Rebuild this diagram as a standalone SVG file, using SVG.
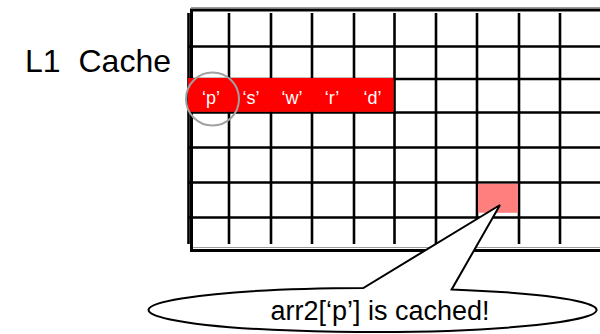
<svg xmlns="http://www.w3.org/2000/svg" width="600" height="334" viewBox="0 0 600 334">
  <style>
    .grid line { stroke: #000; stroke-width: 2.6; }
    .frame { stroke: #000; stroke-width: 3; fill: none; }
    .shade { stroke: #9a9a9a; stroke-width: 1; fill: none; }
    .label { font-family: "Liberation Sans", Arial, sans-serif; fill: #000; }
    .cell-text { font-family: "Liberation Sans", Arial, sans-serif; font-size: 18px; fill: #fff; text-anchor: middle; }
  </style>
  <rect width="600" height="334" fill="#fff"/>

  <!-- caption -->
  <g id="caption">
    <text class="label" x="25" y="72" font-size="32" word-spacing="9">L1 Cache</text>
  </g>

  <!-- cache grid: 7 rows of cache lines -->
  <g id="cache">
    <g class="grid">
      <line x1="188.5" y1="13" x2="188.5" y2="244"/>
      <line x1="229" y1="13" x2="229" y2="244"/>
      <line x1="271" y1="13" x2="271" y2="244"/>
      <line x1="312" y1="13" x2="312" y2="244"/>
      <line x1="354" y1="13" x2="354" y2="244"/>
      <line x1="394.5" y1="13" x2="394.5" y2="244"/>
      <line x1="436" y1="13" x2="436" y2="244"/>
      <line x1="477" y1="13" x2="477" y2="244"/>
      <line x1="519" y1="13" x2="519" y2="244"/>
      <line x1="560" y1="13" x2="560" y2="244"/>
      <line x1="188" y1="46.5" x2="600" y2="46.5"/>
      <line x1="188" y1="79" x2="600" y2="79"/>
      <line x1="188" y1="112.5" x2="600" y2="112.5"/>
      <line x1="188" y1="147.5" x2="600" y2="147.5"/>
      <line x1="188" y1="182.5" x2="600" y2="182.5"/>
      <line x1="188" y1="217.5" x2="600" y2="217.5"/>
    </g>
    <!-- outer frame -->
    <path class="shade" d="M191 7.5 H600 M193 247.5 H600"/>
    <path class="frame" d="M601 10 H191.5 V250.5 H601"/>
  </g>

  <!-- cached line holding the string -->
  <g id="cached-line">
    <rect x="188" y="78" width="205.5" height="33.8" fill="#ff0000"/>
    <text class="cell-text" x="211" y="104">‘p’</text>
    <text class="cell-text" x="251" y="104">‘s’</text>
    <text class="cell-text" x="292" y="104">‘w’</text>
    <text class="cell-text" x="332" y="104">‘r’</text>
    <text class="cell-text" x="372.5" y="104">‘d’</text>
  </g>

  <!-- highlighted element of arr2 -->
  <g id="arr2-entry">
    <rect x="478" y="183.8" width="40" height="29" fill="#ff7f7f"/>
  </g>

  <!-- marker around the first byte -->
  <g id="focus-ring">
    <circle cx="212.5" cy="99" r="26.5" fill="none" stroke="#a0a0a0" stroke-width="2"/>
  </g>

  <!-- speech bubble -->
  <g id="callout">
    <path d="M363.3 288 A224 22 0 1 0 451.7 289.4 L500 205 Z" fill="#fff" stroke="#000" stroke-width="2" stroke-linejoin="miter"/>
    <text class="label" x="380" y="319.5" font-size="27" text-anchor="middle">arr2[‘p’] is cached!</text>
  </g>
</svg>
